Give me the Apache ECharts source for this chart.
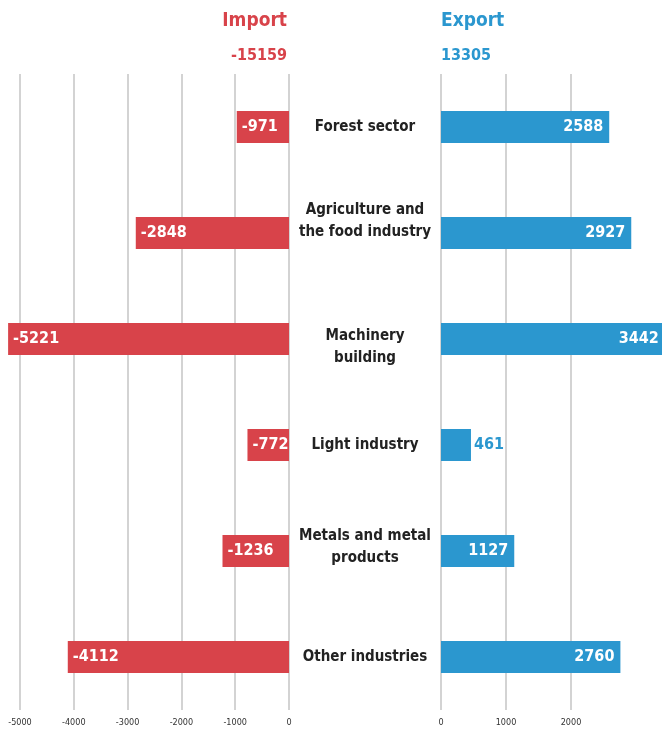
<!DOCTYPE html>
<html>
<head>
<meta charset="utf-8">
<script src="https://cdn.jsdelivr.net/npm/echarts@6/dist/echarts.min.js"></script>
<style>
  html, body { margin: 0; padding: 0; background: #fff; }
  #chart { width: 662px; height: 730px; }
</style>
</head>
<body>
<div id="chart"></div>
<script>
// data
var categories = ["Forest sector", "Agriculture and\nthe food industry", "Machinery\nbuilding",
  "Light industry", "Metals and metal\nproducts", "Other industries"];
var importValues = [-971, -2848, -5221, -772, -1236, -4112];
var exportValues = [2588, 2927, 3442, 461, 1127, 2760];
var importTotal = -15159;
var exportTotal = 13305;

var RED = "#d8434a";
var BLUE = "#2b97cf";
var FONT = '"DejaVu Sans Condensed", "Liberation Sans Narrow", sans-serif';

// two-line labels sit a bit off the bar centre in the original:
// an invisible spacer line below pushes the text up, above pushes it down
var labelSpacer = { 1: "after", 2: "before", 4: "after" };
var spacerHeight = { 1: 24, 2: 16, 4: 8 };

var chart = echarts.init(document.getElementById("chart"));

var rich = {};
Object.keys(spacerHeight).forEach(function (k) {
  rich["g" + k] = { lineHeight: spacerHeight[k], fontSize: 1 };
});

function categoryLabel(value, index) {
  var i = categories.indexOf(value);
  if (labelSpacer[i] === "after") return value + "\n{g" + i + "| }";
  if (labelSpacer[i] === "before") return "{g" + i + "| }\n" + value;
  return value;
}

// small bars get the label outside
var exportData = exportValues.map(function (v) {
  if (v < 800) {
    return { value: v, label: { position: "right", color: BLUE, distance: 3 } };
  }
  return v;
});

function plain(v) { return String(v); }

var option = {
  animation: false,
  textStyle: { fontFamily: FONT },
  title: [
    {
      text: "Import", right: 662 - 292, top: 7,
      textStyle: { color: RED, fontFamily: FONT, fontSize: 19, fontWeight: "bold" }
    },
    {
      text: String(importTotal), right: 662 - 292, top: 43,
      textStyle: { color: RED, fontFamily: FONT, fontSize: 16, fontWeight: "bold" }
    },
    {
      text: "Export", left: 436, top: 7,
      textStyle: { color: BLUE, fontFamily: FONT, fontSize: 19, fontWeight: "bold" }
    },
    {
      text: String(exportTotal), left: 436, top: 43,
      textStyle: { color: BLUE, fontFamily: FONT, fontSize: 16, fontWeight: "bold" }
    }
  ],
  grid: [
    { left: 20, width: 269, top: 74, height: 636 },
    { left: 441, width: 130, top: 74, height: 636 }
  ],
  xAxis: [
    {
      gridIndex: 0, type: "value", min: -5000, max: 0, interval: 1000,
      axisLine: { show: false }, axisTick: { show: false },
      splitLine: { lineStyle: { color: "#c4c4c4", width: 1.5 } },
      axisLabel: { color: "#333", fontSize: 9, margin: 8, fontFamily: FONT, formatter: plain }
    },
    {
      gridIndex: 1, type: "value", min: 0, max: 2000, interval: 1000,
      axisLine: { show: false }, axisTick: { show: false },
      splitLine: { lineStyle: { color: "#c4c4c4", width: 1.5 } },
      axisLabel: { color: "#333", fontSize: 9, margin: 8, fontFamily: FONT, formatter: plain }
    }
  ],
  yAxis: [
    {
      gridIndex: 0, type: "category", data: categories, inverse: true, position: "right",
      axisLine: { show: false }, axisTick: { show: false },
      axisLabel: {
        align: "center", margin: 76, color: "#222", fontSize: 15, fontWeight: "bold",
        lineHeight: 22, fontFamily: FONT, formatter: categoryLabel, rich: rich
      }
    },
    {
      gridIndex: 1, type: "category", data: categories, inverse: true,
      axisLine: { show: false }, axisTick: { show: false }, axisLabel: { show: false }
    }
  ],
  series: [
    {
      name: "Import", type: "bar", xAxisIndex: 0, yAxisIndex: 0,
      data: importValues, barWidth: 32, clip: false, itemStyle: { color: RED },
      label: {
        show: true, position: "insideLeft", distance: 5, color: "#fff",
        fontSize: 16, fontWeight: "bold", fontFamily: FONT
      }
    },
    {
      name: "Export", type: "bar", xAxisIndex: 1, yAxisIndex: 1,
      data: exportData, barWidth: 32, clip: false, itemStyle: { color: BLUE },
      label: {
        show: true, position: "insideRight", distance: 6, color: "#fff",
        fontSize: 16, fontWeight: "bold", fontFamily: FONT
      }
    }
  ]
};

chart.setOption(option);
</script>
</body>
</html>
